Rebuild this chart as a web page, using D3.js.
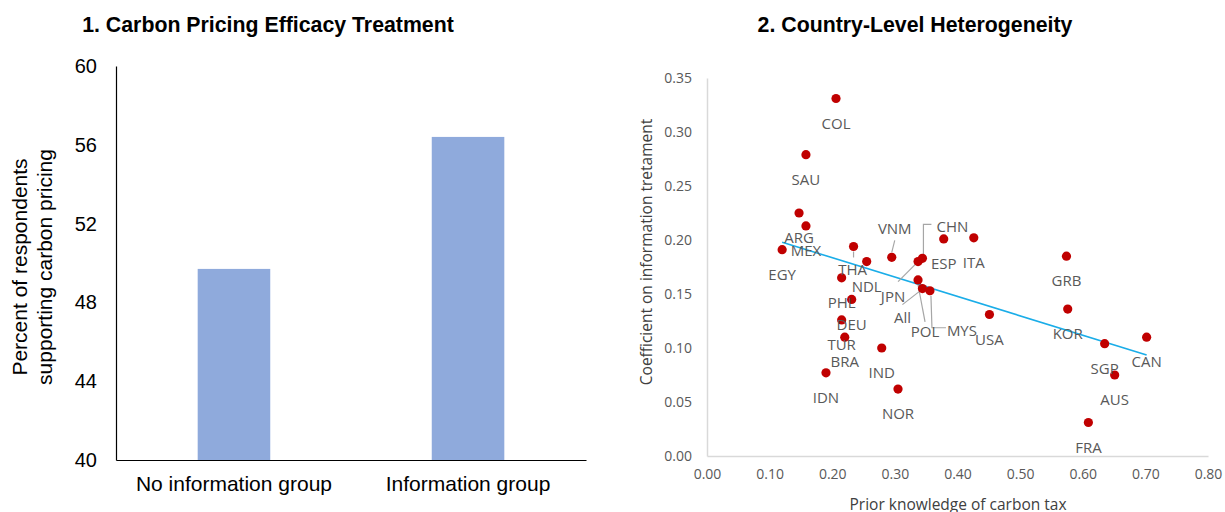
<!DOCTYPE html>
<html>
<head>
<meta charset="utf-8">
<script src="https://cdn.jsdelivr.net/npm/d3@7"></script>
<style>
  html, body { margin: 0; padding: 0; background: #fff; }
  svg { display: block; }
</style>
</head>
<body>
<svg id="chart" width="1225" height="512"></svg>
<script>
// ---------- DATA ----------
const barCategories = ["No information group", "Information group"];
const barValues = [49.7, 56.4];
const barTicks = [40, 44, 48, 52, 56, 60];

const countries = ["COL","SAU","ARG","MEX","EGY","THA","NDL","PHL","DEU","TUR","BRA","IND","IDN","NOR",
                   "VNM","CHN","JPN","ESP","ITA","All","POL","MYS","USA","GRB","KOR","SGP","CAN","AUS","FRA"];
const priorKnowledge = [0.206,0.158,0.147,0.158,0.120,0.234,0.255,0.215,0.231,0.215,0.220,0.279,0.190,0.305,
                        0.295,0.344,0.337,0.378,0.426,0.344,0.337,0.356,0.451,0.574,0.576,0.635,0.702,0.651,0.609];
const coefficients = [0.331,0.279,0.225,0.213,0.191,0.194,0.180,0.165,0.145,0.126,0.110,0.100,0.077,0.062,
                      0.184,0.183,0.180,0.201,0.202,0.155,0.163,0.153,0.131,0.185,0.136,0.104,0.110,0.075,0.031];
const trendX = [0.120, 0.702];
const trendY = [0.198, 0.0935];
const xTicks = [0, 0.1, 0.2, 0.3, 0.4, 0.5, 0.6, 0.7, 0.8];
const yTicks = [0, 0.05, 0.1, 0.15, 0.2, 0.25, 0.3, 0.35];

// ---------- LAYOUT (label placement, not data) ----------
const labelLayout = {
  VNM: {dx: 3, dy: -29, leader: [[0,-5],[3,-17]]},
  CHN: {dx: 30, dy: -32, leader: [[1,-3],[1,-34],[9,-34]]},
  JPN: {dx: -25, dy: 35, leader: [[-2,2],[-20,20]]},
  All: {dx: -20, dy: 29, leader: [[-2,2],[-20,16]]},
  POL: {dx: 7, dy: 52, leader: [[0,5],[7,42]]},
  MYS: {dx: 32, dy: 40, leader: [[1,5],[2,37],[16,37]]},
  THA: {dx: -1, dy: 23, leader: [[0,5],[0,11]]}
};

const svg = d3.select("#chart");

// ---------- LEFT: bar chart ----------
const L = {left: 116, right: 586, top: 66, bottom: 460};
const xb = d3.scaleBand().domain(barCategories).range([L.left, L.right])
  .paddingInner(0.69).paddingOuter(0.349);
const yb = d3.scaleLinear().domain([40, 60]).range([L.bottom, L.top]);

svg.append("text").attr("x", 268).attr("y", 32).attr("text-anchor", "middle")
  .attr("font-family", "Liberation Sans, Arial, sans-serif").attr("font-weight", "bold")
  .attr("font-size", 21.3).attr("fill", "#000").text("1. Carbon Pricing Efficacy Treatment");

svg.append("g").selectAll("rect").data(barValues).join("rect")
  .attr("x", (d, i) => xb(barCategories[i]))
  .attr("width", xb.bandwidth())
  .attr("y", d => yb(d))
  .attr("height", d => yb(40) - yb(d))
  .attr("fill", "#8FAADC");

const yAxisL = svg.append("g").attr("transform", `translate(${L.left},0)`)
  .call(d3.axisLeft(yb).tickValues(barTicks).tickSize(0).tickPadding(19).tickFormat(d3.format("d")));
yAxisL.select(".domain").attr("stroke", "#000").attr("stroke-width", 1.2);
yAxisL.selectAll("text").attr("font-family", "Liberation Sans, Arial, sans-serif").attr("font-size", 20).attr("fill", "#000");

const xAxisL = svg.append("g").attr("transform", `translate(0,${L.bottom})`)
  .call(d3.axisBottom(xb).tickSize(0).tickPadding(16));
xAxisL.select(".domain").attr("stroke", "#000").attr("stroke-width", 1.2);
xAxisL.selectAll("text").attr("font-family", "Liberation Sans, Arial, sans-serif").attr("font-size", 21).attr("fill", "#000");

const yTitle = svg.append("text").attr("transform", "translate(20,267) rotate(-90)")
  .attr("text-anchor", "middle").attr("font-family", "Liberation Sans, Arial, sans-serif")
  .attr("font-size", 21).attr("fill", "#000");
yTitle.append("tspan").attr("x", 0).attr("dy", "0.35em").text("Percent of respondents");
yTitle.append("tspan").attr("x", 0).attr("dy", "1.15em").text("supporting carbon pricing");

// ---------- RIGHT: scatter ----------
const R = {left: 707, right: 1208, top: 78, bottom: 456};
const xs = d3.scaleLinear().domain([0, 0.8]).range([R.left, R.right]);
const ys = d3.scaleLinear().domain([0, 0.35]).range([R.bottom, R.top]);
const sansR = "Open Sans, Noto Sans, sans-serif";

svg.append("text").attr("x", 915).attr("y", 32).attr("text-anchor", "middle")
  .attr("font-family", "Liberation Sans, Arial, sans-serif").attr("font-weight", "bold")
  .attr("font-size", 21.3).attr("fill", "#000").text("2. Country-Level Heterogeneity");

const xAxisR = svg.append("g").attr("transform", `translate(0,${R.bottom})`)
  .call(d3.axisBottom(xs).tickValues(xTicks).tickSize(0).tickPadding(13).tickFormat(d3.format(".2f")));
xAxisR.select(".domain").attr("stroke", "#D9D9D9").attr("stroke-width", 1.5);
xAxisR.selectAll("text").attr("font-family", sansR).attr("font-size", 14).attr("fill", "#595959");

const yAxisR = svg.append("g").attr("transform", `translate(${R.left},0)`)
  .call(d3.axisLeft(ys).tickValues(yTicks).tickSize(0).tickPadding(15).tickFormat(d3.format(".2f")));
yAxisR.select(".domain").attr("stroke", "#D9D9D9").attr("stroke-width", 1.5);
yAxisR.selectAll("text").attr("font-family", sansR).attr("font-size", 14).attr("fill", "#595959");

svg.append("text").attr("x", 958).attr("y", 510).attr("text-anchor", "middle")
  .attr("font-family", sansR).attr("font-size", 15.5).attr("fill", "#404040")
  .text("Prior knowledge of carbon tax");
svg.append("text").attr("transform", "translate(647,252) rotate(-90)").attr("text-anchor", "middle")
  .attr("dy", "0.35em").attr("font-family", sansR).attr("font-size", 15.5).attr("fill", "#404040")
  .text("Coefficient on information tretament");

// trend line
svg.append("line")
  .attr("x1", xs(trendX[0])).attr("y1", ys(trendY[0]))
  .attr("x2", xs(trendX[1])).attr("y2", ys(trendY[1]))
  .attr("stroke", "#1AADE8").attr("stroke-width", 1.6);

const pts = countries.map((c, i) => ({c, x: priorKnowledge[i], y: coefficients[i]}));

// leader lines
svg.append("g").selectAll("polyline").data(pts.filter(p => labelLayout[p.c] && labelLayout[p.c].leader))
  .join("polyline")
  .attr("points", p => labelLayout[p.c].leader.map(([a, b]) => [xs(p.x) + a, ys(p.y) + b].join(",")).join(" "))
  .attr("fill", "none").attr("stroke", "#A6A6A6").attr("stroke-width", 1.2);

// points
svg.append("g").selectAll("circle").data(pts).join("circle")
  .attr("cx", p => xs(p.x)).attr("cy", p => ys(p.y)).attr("r", 4.6).attr("fill", "#C00000");

// labels
svg.append("g").selectAll("text").data(pts).join("text")
  .attr("x", p => xs(p.x) + (labelLayout[p.c] ? labelLayout[p.c].dx : 0))
  .attr("y", p => ys(p.y) + (labelLayout[p.c] ? labelLayout[p.c].dy : 25))
  .attr("dy", "0.35em").attr("text-anchor", "middle")
  .attr("font-family", sansR).attr("font-size", 15).attr("fill", "#595959")
  .text(p => p.c);
</script>
</body>
</html>
